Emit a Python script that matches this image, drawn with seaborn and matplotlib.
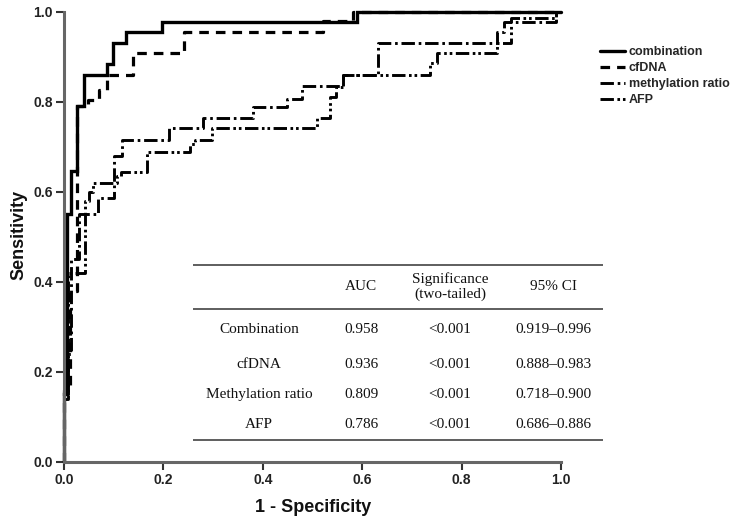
import matplotlib
matplotlib.use("Agg")
import matplotlib.pyplot as plt
import seaborn as sns
import pandas as pd

# ---------------- data ----------------
combination_fpr = [0.0, 0.0, 0.006, 0.006, 0.014, 0.014, 0.026, 0.026, 0.040, 0.040, 0.087, 0.087,
                   0.099, 0.099, 0.125, 0.125, 0.197, 0.197, 0.590, 0.590, 1.0]
combination_tpr = [0.0, 0.15, 0.15, 0.55, 0.55, 0.645, 0.645, 0.79, 0.79, 0.86, 0.86, 0.884,
                   0.884, 0.931, 0.931, 0.956, 0.956, 0.978, 0.978, 1.0, 1.0]

cfdna_fpr = [0.0, 0.0, 0.012, 0.012, 0.026, 0.026, 0.048, 0.048, 0.070, 0.070, 0.087, 0.087,
             0.139, 0.139, 0.242, 0.242, 0.522, 0.522, 0.582, 0.582, 1.0]
cfdna_tpr = [0.0, 0.16, 0.16, 0.38, 0.38, 0.79, 0.79, 0.804, 0.804, 0.827, 0.827, 0.86,
             0.86, 0.909, 0.909, 0.956, 0.956, 0.98, 0.98, 1.0, 1.0]

methyl_fpr = [0.0, 0.0, 0.008, 0.008, 0.014, 0.014, 0.030, 0.030, 0.068, 0.068, 0.100, 0.100,
              0.117, 0.117, 0.212, 0.212, 0.280, 0.280, 0.380, 0.380, 0.449, 0.449, 0.479, 0.479,
              0.561, 0.561, 0.632, 0.632, 0.871, 0.871, 0.885, 0.885, 0.990, 0.990, 1.0]
methyl_tpr = [0.0, 0.145, 0.145, 0.24, 0.24, 0.45, 0.45, 0.55, 0.55, 0.585, 0.585, 0.68,
              0.68, 0.716, 0.716, 0.742, 0.742, 0.764, 0.764, 0.789, 0.789, 0.805, 0.805, 0.836,
              0.836, 0.86, 0.86, 0.931, 0.931, 0.956, 0.956, 0.978, 0.978, 1.0, 1.0]

afp_fpr = [0.0, 0.0, 0.008, 0.008, 0.043, 0.043, 0.050, 0.050, 0.058, 0.058, 0.106, 0.106,
           0.114, 0.114, 0.167, 0.167, 0.253, 0.253, 0.263, 0.263, 0.298, 0.298, 0.509, 0.509,
           0.535, 0.535, 0.548, 0.548, 0.561, 0.561, 0.736, 0.736, 0.750, 0.750, 0.871, 0.871,
           0.900, 0.900, 0.990, 0.990, 1.0]
afp_tpr = [0.0, 0.14, 0.14, 0.42, 0.42, 0.58, 0.58, 0.60, 0.60, 0.62, 0.62, 0.635,
           0.635, 0.644, 0.644, 0.689, 0.689, 0.705, 0.705, 0.716, 0.716, 0.742, 0.742, 0.764,
           0.764, 0.81, 0.81, 0.833, 0.833, 0.86, 0.86, 0.887, 0.887, 0.909, 0.909, 0.931,
           0.931, 0.985, 0.985, 1.0, 1.0]

legend_labels = ["combination", "cfDNA", "methylation ratio", "AFP"]

table_rows = ["Combination", "cfDNA", "Methylation ratio", "AFP"]
table_auc = ["0.958", "0.936", "0.809", "0.786"]
table_sig = ["<0.001", "<0.001", "<0.001", "<0.001"]
table_ci = ["0.919\u20130.996", "0.888\u20130.983", "0.718\u20130.900", "0.686\u20130.886"]
table_header = ["AUC", "Significance\n(two-tailed)", "95% CI"]

# ---------------- figure ----------------
sns.set_theme(style="white")
plt.rcParams["font.family"] = ["Liberation Sans", "DejaVu Sans"]

fig = plt.figure(figsize=(7.35, 5.23), dpi=100)
ax = fig.add_axes([64 / 735, 1 - 461.7 / 523, 497 / 735, 450 / 523])

series = [
    (combination_fpr, combination_tpr, "-", 2.4),
    (cfdna_fpr, cfdna_tpr, (0, (3.0, 2.2)), 2.3),
    (methyl_fpr, methyl_tpr, (0, (4.6, 1.3, 0.9, 1.3)), 2.1),
    (afp_fpr, afp_tpr, (0, (4.6, 1.2, 0.9, 1.0, 0.9, 1.2)), 2.1),
]
for (fx, ty, ls, lw), lab in zip(series, legend_labels):
    df = pd.DataFrame({"fpr": fx, "tpr": ty})
    sns.lineplot(data=df, x="fpr", y="tpr", sort=False, estimator=None, ax=ax,
                 color="black", linewidth=lw, linestyle=ls, label=lab, clip_on=False,
                 solid_joinstyle="miter", zorder=3)

ax.set_xlim(0, 1)
ax.set_ylim(0, 1)
ticks = [0.0, 0.2, 0.4, 0.6, 0.8, 1.0]
ax.set_xticks(ticks)
ax.set_yticks(ticks)
ax.set_xticklabels([f"{t:.1f}" for t in ticks])
ax.set_yticklabels([f"{t:.1f}" for t in ticks])
ax.tick_params(axis="both", direction="out", length=6, width=1.5, color="#333333",
               labelsize=10, pad=2, labelcolor="#222222", bottom=True, left=True)
for lab in ax.get_xticklabels() + ax.get_yticklabels():
    lab.set_fontweight("bold")

for s in ["top", "right"]:
    ax.spines[s].set_visible(False)
for s in ["left", "bottom"]:
    ax.spines[s].set_color("#666666")
    ax.spines[s].set_linewidth(2.2)
    ax.spines[s].set_zorder(4)

ax.set_xlabel("1 - Specificity", fontsize=13, fontweight="bold", color="#111111")
ax.set_ylabel("Sensitivity", fontsize=13, fontweight="bold", color="#111111")
ax.xaxis.set_label_coords(0.501, -0.082)
ax.yaxis.set_label_coords(-0.074, 0.504)

leg = ax.legend(loc="upper left", bbox_to_anchor=(600 / 735, 1 - 46 / 523),
                bbox_transform=fig.transFigure, frameon=False, borderpad=0,
                borderaxespad=0, handlelength=2.0, handletextpad=0.3,
                labelspacing=0.33, prop={"family": "Liberation Sans", "weight": "bold", "size": 9})

# ---------------- table ----------------
x_left, x_right = 0.26, 1.085
for yl in [0.4362, 0.3385, 0.0473]:
    ax.plot([x_left, x_right], [yl, yl], color="#333333", lw=1.1, clip_on=False,
            solid_capstyle="butt", zorder=2)

serif = {"family": "Liberation Serif", "size": 11, "color": "#111111"}
col_x = [0.598, 0.777, 0.984]
for cx, h in zip(col_x, table_header):
    ax.text(cx, 0.389, h, ha="center", va="center", fontdict=serif, linespacing=1.1)

row_y = [0.293, 0.2156, 0.149, 0.082]
for ry, name, auc, sig, ci in zip(row_y, table_rows, table_auc, table_sig, table_ci):
    ax.text(0.392, ry, name, ha="center", va="center", fontdict=serif)
    ax.text(col_x[0], ry, auc, ha="center", va="center", fontdict=serif)
    ax.text(col_x[1], ry, sig, ha="center", va="center", fontdict=serif)
    ax.text(col_x[2], ry, ci, ha="center", va="center", fontdict=serif, clip_on=False)

fig.savefig("out.png", dpi=100)
